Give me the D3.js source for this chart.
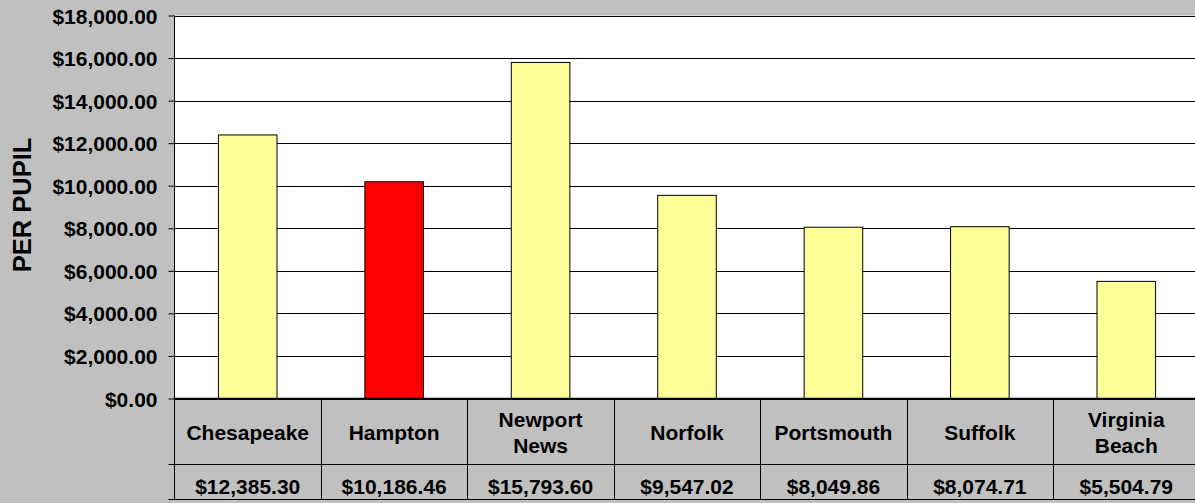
<!DOCTYPE html>
<html><head><meta charset="utf-8">
<script src="https://cdn.jsdelivr.net/npm/d3@7"></script>
<style>
html,body{margin:0;padding:0;background:#c0c0c0;}
svg{display:block;font-family:"Liberation Sans",Arial,sans-serif;font-weight:bold;}
</style></head><body>
<svg id="c" width="1195" height="503"></svg>
<script>
const categories = [["Chesapeake"],["Hampton"],["Newport","News"],["Norfolk"],["Portsmouth"],["Suffolk"],["Virginia","Beach"]];
const values = [12385.30, 10186.46, 15793.60, 9547.02, 8049.86, 8074.71, 5504.79];
const highlight = [false, true, false, false, false, false, false];
const yTicks = [0,2000,4000,6000,8000,10000,12000,14000,16000,18000];
const yLabel = "PER PUPIL";

const svg = d3.select("#c");
const L = 174.5, R = 1199.5, T = 15.5, B = 398.5, ROW1 = 464.5, ROW2 = 499.5;
const FS = 21;
const names = categories.map(c => c.join(" "));
const x = d3.scaleBand().domain(names).range([L, R]).padding(0);
const xb = d3.scaleBand().domain(names).range([L, R]).paddingInner(0.6).paddingOuter(0.3);
const y = d3.scaleLinear().domain([0, 18000]).range([B, T]);
const fmt = v => "$" + d3.format(",.2f")(v);

svg.append("rect").attr("x", L).attr("y", T).attr("width", R - L).attr("height", B - T).attr("fill", "#fff");

// gridlines
svg.append("g").selectAll("line").data(yTicks).join("line")
  .attr("x1", L).attr("x2", R).attr("y1", d => Math.round(y(d)) + 0.5).attr("y2", d => Math.round(y(d)) + 0.5)
  .attr("stroke", "#000").attr("stroke-width", 1);

// y axis
const ya = svg.append("g").attr("transform", `translate(${L},0)`)
  .call(d3.axisLeft(y).tickValues(yTicks).tickSize(6).tickPadding(11).tickFormat(fmt));
ya.select(".domain").remove();
ya.selectAll(".tick line").attr("stroke", "#000");
ya.selectAll(".tick text").attr("font-size", FS).attr("font-family", "Liberation Sans, Arial, sans-serif")
  .attr("font-weight", "bold").attr("fill", "#000").attr("dy", "0.36em");

// bars
svg.append("g").selectAll("rect").data(values).join("rect")
  .attr("x", (d, i) => xb(names[i])).attr("width", xb.bandwidth())
  .attr("y", d => y(d)).attr("height", d => B - y(d))
  .attr("fill", (d, i) => highlight[i] ? "#ff0000" : "#ffff99")
  .attr("stroke", "#000").attr("stroke-width", 1);

// axis lines
svg.append("line").attr("x1", L).attr("x2", L).attr("y1", T).attr("y2", ROW2).attr("stroke", "#000");
svg.append("line").attr("x1", L).attr("x2", R).attr("y1", B).attr("y2", B).attr("stroke", "#000").attr("stroke-width", 1.5);

// table
const tbl = svg.append("g");
tbl.selectAll("line.v").data(names.slice(1)).join("line").attr("class", "v")
  .attr("x1", d => Math.round(x(d)) + 0.5).attr("x2", d => Math.round(x(d)) + 0.5)
  .attr("y1", B).attr("y2", ROW2).attr("stroke", "#000");
[ROW1, ROW2].forEach(yy => tbl.append("line").attr("x1", L - 6).attr("x2", R).attr("y1", yy).attr("y2", yy).attr("stroke", "#000"));

const cat = tbl.selectAll("text.cat").data(categories).join("text").attr("class", "cat")
  .attr("text-anchor", "middle").attr("font-size", FS).attr("fill", "#000")
  .attr("x", (d, i) => x(names[i]) + x.bandwidth() / 2);
cat.each(function(d) {
  const t = d3.select(this);
  const mid = 440;
  const lh = 26.5;
  d.forEach((line, j) => {
    t.append("tspan").attr("x", t.attr("x")).attr("y", mid + (j - (d.length - 1) / 2) * lh).text(line);
  });
});
tbl.selectAll("text.val").data(values).join("text").attr("class", "val")
  .attr("text-anchor", "middle").attr("font-size", FS).attr("fill", "#000")
  .attr("x", (d, i) => x(names[i]) + x.bandwidth() / 2).attr("y", 494)
  .text(fmt);

// y label
svg.append("text").attr("transform", "translate(31,205) rotate(-90)")
  .attr("text-anchor", "middle").attr("font-size", 25.5).attr("fill", "#000").text(yLabel);
</script>
</body></html>
